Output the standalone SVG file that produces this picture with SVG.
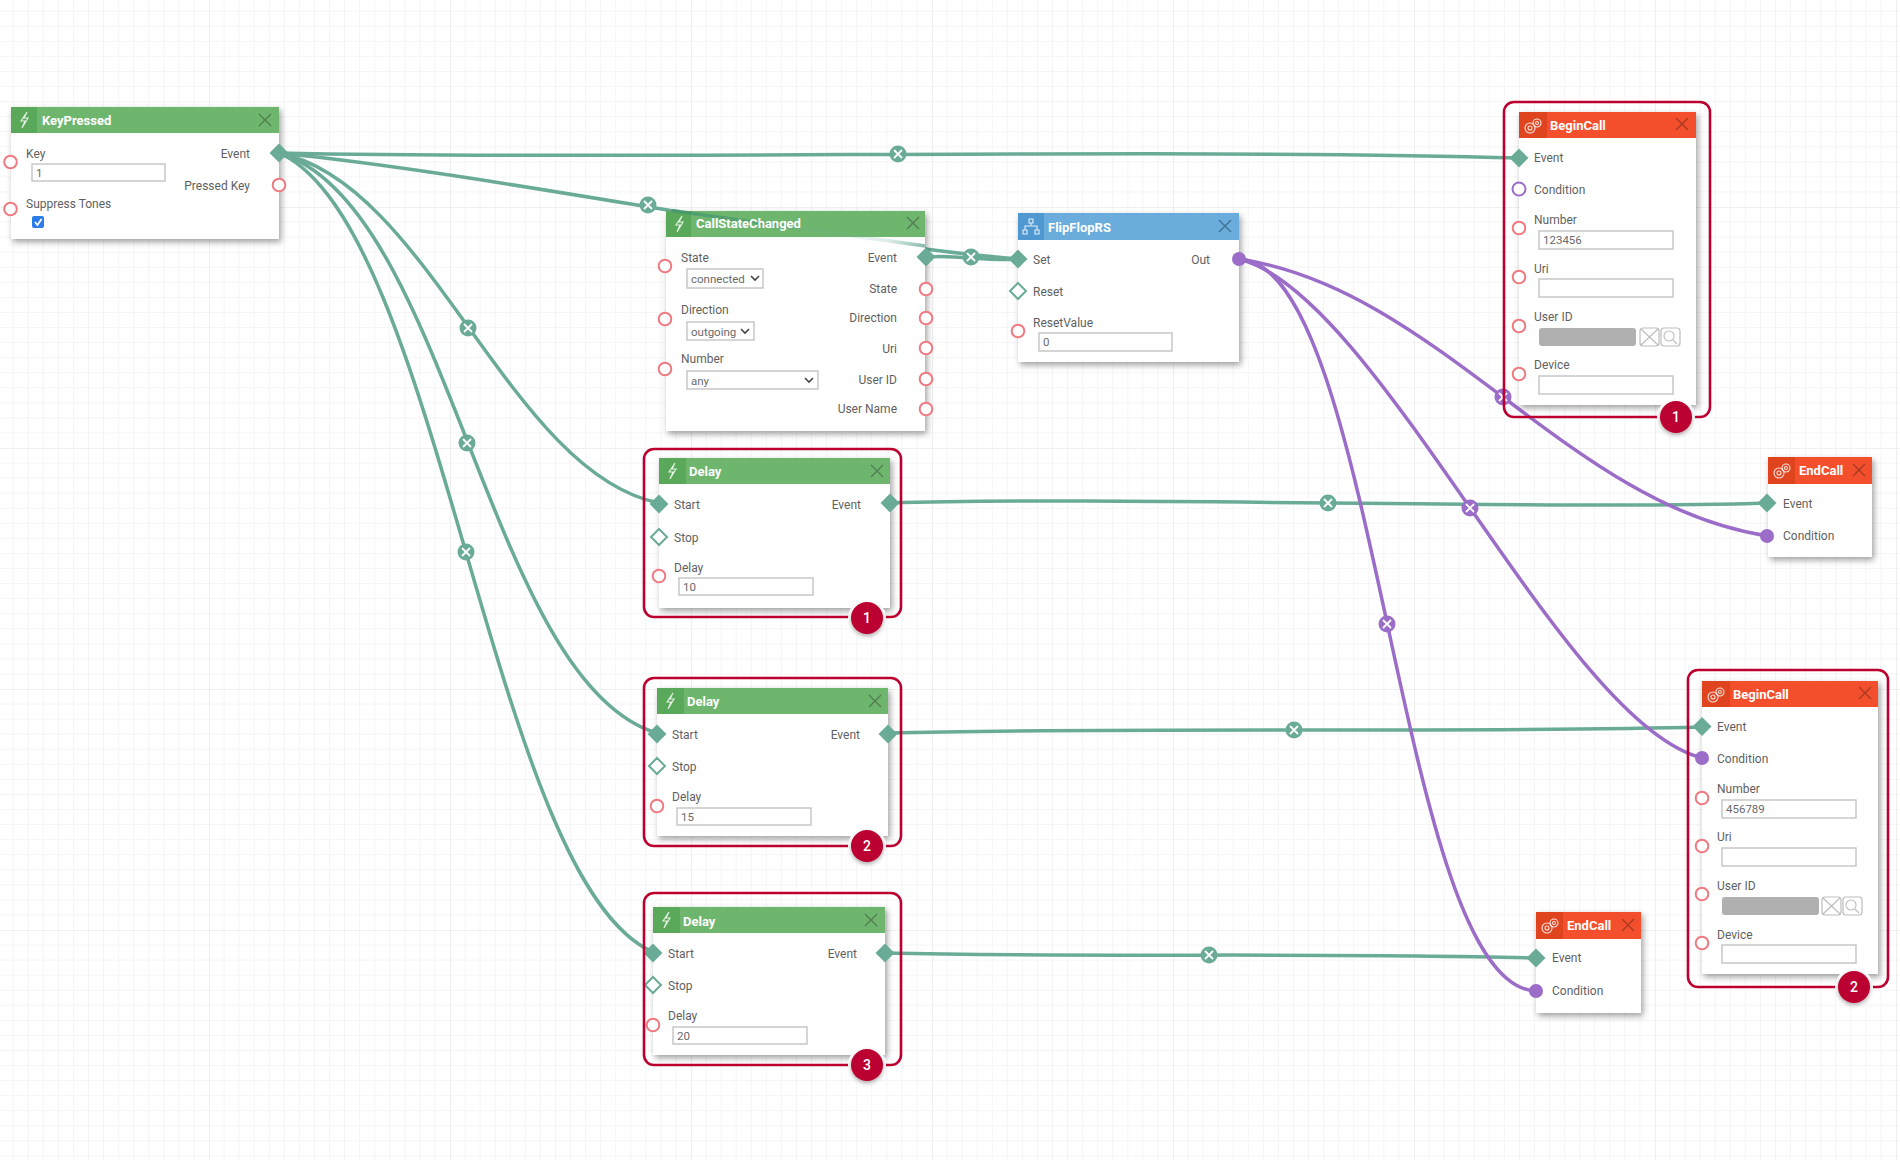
<svg xmlns="http://www.w3.org/2000/svg" xmlns:xlink="http://www.w3.org/1999/xlink" width="1900" height="1160" viewBox="0 0 1900 1160">
<style>
text{font-family:Roboto,"Liberation Sans",sans-serif;font-size:12px;fill:#5f5f5f}
.t{font-size:13px;font-weight:700;fill:#fff}
.r{text-anchor:end}
.v{fill:#6a6a6a;font-size:11.5px}
.card{fill:#fff;filter:url(#sh)}
.g-h{fill:#6eb66e}.g-i{fill:#5aa95a}
.b-h{fill:#6aacdc}.b-i{fill:#4f98d2}
.r-h{fill:#f34f2d}.r-i{fill:#e0441f}
.close{fill:none;stroke:#4a6a4a;stroke-width:1.4;opacity:.75}
.closer{fill:none;stroke:#a83a22;stroke-width:1.4}
.closeb{fill:none;stroke:#3f6f90;stroke-width:1.4}
.icon{fill:none;stroke:#fff;stroke-width:1.1;opacity:.85}
.in{fill:#fff;stroke:#c4c4c4;stroke-width:1.4}
.gray{fill:#b0b0b0}
.btn{fill:#fff;stroke:#bdbdbd;stroke-width:1.2}
.btnm{fill:none;stroke:#bdbdbd;stroke-width:1.1}
.chev{fill:none;stroke:#444;stroke-width:1.6}
.pc{fill:#fff;stroke:#f07a80;stroke-width:2}
.pu{fill:#fff;stroke:#9b6cc8;stroke-width:2}
.pf{fill:#9b6cc8}
.df{fill:#6aab97}
.dh{fill:#fff;stroke:#6aab97;stroke-width:2}
.c{fill:none;stroke-width:3.5;stroke-linecap:round}
.cg{stroke:#6aab97}.cp{stroke:#9b6cc8}
.mg{fill:#6aab97}.mp{fill:#9b6cc8}
.mx{fill:none;stroke:#fff;stroke-width:1.8}
.frame{fill:none;stroke:#bb0030;stroke-width:2.6}
.halo{fill:#fff}
.badge{fill:#bb0030;filter:url(#sh2)}
.bt{font-size:14px;font-weight:500;fill:#fff;text-anchor:middle}
</style>
<defs>
<filter id="sh" x="-10%" y="-10%" width="125%" height="125%"><feDropShadow dx="2" dy="3" stdDeviation="3" flood-color="#000" flood-opacity=".38"/></filter>
<filter id="sh2" x="-30%" y="-30%" width="160%" height="160%"><feDropShadow dx="0" dy="2" stdDeviation="2" flood-color="#000" flood-opacity=".35"/></filter>
<pattern id="grid" patternUnits="userSpaceOnUse" x="209" y="207" width="241" height="241">
<path d="M15.06 0V241M30.12 0V241M45.19 0V241M60.25 0V241M75.31 0V241M90.37 0V241M105.44 0V241M120.5 0V241M135.56 0V241M150.62 0V241M165.69 0V241M180.75 0V241M195.81 0V241M210.87 0V241M225.94 0V241M0 15.06H241M0 30.12H241M0 45.19H241M0 60.25H241M0 75.31H241M0 90.37H241M0 105.44H241M0 120.5H241M0 135.56H241M0 150.62H241M0 165.69H241M0 180.75H241M0 195.81H241M0 210.87H241M0 225.94H241" fill="none" stroke="#f5f5f5" stroke-width="1"/>
<path d="M.5 0V241M0 .5H241" fill="none" stroke="#efefef" stroke-width="1.2"/>
</pattern>
<linearGradient id="over" gradientUnits="userSpaceOnUse" x1="4" y1="0" x2="259" y2="0">
<stop offset="0" stop-color="#3f9070" stop-opacity=".7"/><stop offset=".42" stop-color="#3f9070" stop-opacity=".4"/><stop offset=".52" stop-color="#6aab97" stop-opacity=".14"/><stop offset=".85" stop-color="#6aab97" stop-opacity=".2"/><stop offset="1" stop-color="#6aab97" stop-opacity=".8"/>
</linearGradient>
<g id="xm"><path d="M-6-6L6 6M6-6L-6 6"/></g>
<g id="bolt"><path class="icon" d="M3-8L-3 1H1L-2 8L4-2H0L3-8Z"/></g>
<g id="gears"><circle class="icon" cx="-3" cy="2" r="5"/><circle class="icon" cx="-3" cy="2" r="2"/><circle class="icon" cx="4" cy="-3" r="4"/><circle class="icon" cx="4" cy="-3" r="1.5"/></g>
<g id="flow"><path class="icon" d="M-2-8H2V-4H-2ZM-8 3H-4V7H-8ZM4 3H8V7H4ZM0-4V-1M-6 3V-1H6V3"/></g>
<g id="mxg"><circle class="mg" r="8.5"/><path class="mx" d="M-4-4L4 4M4-4L-4 4"/></g>
<g id="mxp"><circle class="mp" r="8.5"/><path class="mx" d="M-4-4L4 4M4-4L-4 4"/></g>
<polygon id="d" points="0,-9.5 9.5,0 0,9.5 -9.5,0"/>
<polygon id="dh" points="0,-8 8,0 0,8 -8,0"/>
</defs>
<rect id="background" width="1900" height="1160" fill="#fff"/>
<rect width="1900" height="1160" fill="url(#grid)"/>

<g id="connectors">
<path class="c cg" d="M279 153C600 160 1200 148 1519 158"/>
<path class="c cg" d="M279 153C500 175 800 240 1018 259"/>
<path class="c cg" d="M279 153C429 183 509 473 659 503"/>
<path class="c cg" d="M279 153C449 203 487 683 657 733"/>
<path class="c cg" d="M279 153C441 223 491 882 653 952"/>
<path class="c cg" d="M925 257C955 254 990 262 1018 259"/>
<path class="c cg" d="M890 503C1100 496 1560 510 1768 503"/>
<path class="c cg" d="M888 733C1100 727 1490 733 1702 727"/>
<path class="c cg" d="M885 953C1100 958 1320 952 1536 958"/>
<path class="c cp" d="M1239 259C1439 289 1568 506 1768 536"/>
<path class="c cp" d="M1239 259C1379 294 1562 723 1702 758"/>
<path class="c cp" d="M1239 259C1379 264 1396 986 1536 991"/>
<use href="#mxg" x="898" y="154"/>
<use href="#mxg" x="648" y="205"/>
<use href="#mxg" x="971" y="257"/>
<use href="#mxg" x="468" y="328"/>
<use href="#mxg" x="467" y="443"/>
<use href="#mxg" x="466" y="552"/>
<use href="#mxg" x="1328" y="503"/>
<use href="#mxg" x="1294" y="730"/>
<use href="#mxg" x="1209" y="955"/>
<use href="#mxp" x="1503" y="397"/>
<use href="#mxp" x="1470" y="508"/>
<use href="#mxp" x="1387" y="624"/>
</g>

<g id="node-keypressed" transform="translate(11 107)">
<rect class="card" width="268" height="132"/><rect class="g-h" width="268" height="26"/><rect class="g-i" width="26" height="26"/>
<use href="#bolt" x="13" y="13"/><text class="t" x="31" y="17.500">KeyPressed</text><use href="#xm" class="close" x="254" y="13"/>
<text x="15" y="51">Key</text><rect class="in" x="21" y="57" width="133" height="17"/><text class="v" x="25" y="70">1</text>
<text x="15" y="101">Suppress Tones</text>
<rect x="21" y="109" width="12" height="12" rx="2" fill="#2b7de9"/><path d="M24 115L26.5 118L30.5 112" fill="none" stroke="#fff" stroke-width="1.8"/>
<text class="r" x="239" y="51">Event</text><text class="r" x="239" y="83">Pressed Key</text>
<circle class="pc" cx="-0.500" cy="55" r="6.3"/><circle class="pc" cx="-0.500" cy="102" r="6.3"/>
<use href="#d" class="df" x="268" y="46"/><circle class="pc" cx="268" cy="78" r="6.3"/>
</g>

<g id="node-callstatechanged" transform="translate(666 211)">
<rect class="card" width="259" height="220"/><rect class="g-h" width="259" height="26"/><rect class="g-i" width="25" height="26"/>
<path id="connector-under-card" d="M6 -0.500L259 35" fill="none" stroke="url(#over)" stroke-width="3.5"/>
<use href="#bolt" x="13" y="13"/><text class="t" x="30" y="17">CallStateChanged</text><use href="#xm" class="close" x="247" y="12"/>
<text x="15" y="51">State</text><rect class="in" x="21" y="58" width="76" height="19"/><text class="v" x="25" y="72">connected</text><path class="chev" d="M85 65L89 69L93 65"/>
<text x="15" y="103">Direction</text><rect class="in" x="21" y="111" width="67" height="18"/><text class="v" x="25" y="125">outgoing</text><path class="chev" d="M75 118L79 122L83 118"/>
<text x="15" y="152">Number</text><rect class="in" x="21" y="160" width="131" height="18"/><text class="v" x="25" y="174">any</text><path class="chev" d="M139 167L143 171L147 167"/>
<text class="r" x="231" y="51">Event</text><text class="r" x="231" y="82">State</text><text class="r" x="231" y="111">Direction</text><text class="r" x="231" y="142">Uri</text><text class="r" x="231" y="173">User ID</text><text class="r" x="231" y="202">User Name</text>
<circle class="pc" cx="-1" cy="55" r="6.3"/><circle class="pc" cx="-1" cy="108" r="6.3"/><circle class="pc" cx="-1" cy="158" r="6.3"/>
<use href="#d" class="df" x="260" y="46"/><circle class="pc" cx="260" cy="78" r="6.3"/><circle class="pc" cx="260" cy="107" r="6.3"/><circle class="pc" cx="260" cy="137" r="6.3"/><circle class="pc" cx="260" cy="168" r="6.3"/><circle class="pc" cx="260" cy="198" r="6.3"/>
</g>

<g id="node-flipflop" transform="translate(1018 213)">
<rect class="card" width="221" height="149"/><rect class="b-h" width="221" height="27"/><rect class="b-i" width="26" height="27"/>
<use href="#flow" x="13" y="14"/><text class="t" x="30" y="19">FlipFlopRS</text><use href="#xm" class="closeb" x="207" y="13"/>
<text x="15" y="51">Set</text><text x="15" y="83">Reset</text><text x="15" y="114">ResetValue</text>
<rect class="in" x="21" y="120" width="133" height="18"/><text class="v" x="25" y="133">0</text>
<text class="r" x="192" y="51">Out</text>
<use href="#d" class="df" x="0" y="46"/><use href="#dh" class="dh" x="0" y="78"/><circle class="pc" cx="0" cy="118" r="6.3"/><circle class="pf" cx="221" cy="46" r="7"/>
</g>

<g id="node-begincall-1">
<g transform="translate(1519 112)">
<rect class="card" width="177" height="293"/><rect class="r-h" width="177" height="26"/><rect class="r-i" width="28" height="26"/>
<use href="#gears" x="14" y="14"/><text class="t" x="31" y="18">BeginCall</text><use href="#xm" class="closer" x="163" y="12"/>
<text x="15" y="50">Event</text><text x="15" y="82">Condition</text><text x="15" y="112">Number</text><text x="15" y="161">Uri</text><text x="15" y="209">User ID</text><text x="15" y="257">Device</text>
<rect class="in" x="20" y="119" width="134" height="18"/><text class="v" x="24" y="132">123456</text><rect class="in" x="20" y="167" width="134" height="18"/>
<rect class="gray" x="20" y="216" width="97" height="18" rx="3"/><rect class="btn" x="121" y="216" width="19" height="18" rx="3"/><path class="btnm" d="M122 217L139 233M139 217L122 233"/><rect class="btn" x="142" y="216" width="19" height="18" rx="3"/><circle class="btnm" cx="150" cy="224" r="5"/><path class="btnm" d="M154 228L158 232"/>
<rect class="in" x="20" y="264" width="134" height="18"/>
<use href="#d" class="df" x="0" y="46"/><circle class="pu" cx="0" cy="77" r="6.5"/><circle class="pc" cy="116" r="6.3"/><circle class="pc" cy="165" r="6.3"/><circle class="pc" cy="214" r="6.3"/><circle class="pc" cy="262" r="6.3"/>
</g>
<rect class="frame" x="1504" y="102" width="206" height="315" rx="10"/>
<circle class="halo" cx="1676" cy="417" r="19"/><circle class="badge" cx="1676" cy="417" r="16"/><text class="bt" x="1676" y="422">1</text>
</g>

<g id="node-endcall-1" transform="translate(1768 457)">
<rect class="card" width="104" height="100"/><rect class="r-h" width="104" height="27"/><rect class="r-i" width="27" height="27"/>
<use href="#gears" x="14" y="14"/><text class="t" x="31" y="18">EndCall</text><use href="#xm" class="closer" x="91" y="13"/>
<text x="15" y="51">Event</text><text x="15" y="83">Condition</text>
<use href="#d" class="df" x="-1" y="46"/><circle class="pf" cx="-1" cy="79" r="7"/>
</g>

<g id="node-delay-1">
<g transform="translate(659 458)">
<rect class="card" width="231" height="150"/><rect class="g-h" width="231" height="26"/><rect class="g-i" width="27" height="26"/>
<use href="#bolt" x="13" y="13"/><text class="t" x="30" y="18">Delay</text><use href="#xm" class="close" x="218" y="13"/>
<text x="15" y="51">Start</text><text x="15" y="84">Stop</text><text x="15" y="114">Delay</text>
<rect class="in" x="20" y="120" width="134" height="17"/><text class="v" x="24" y="133">10</text><text class="r" x="202" y="51">Event</text>
<use href="#d" class="df" x="0" y="46"/><use href="#dh" class="dh" x="0" y="79"/><circle class="pc" cy="118" r="6.3"/><use href="#d" class="df" x="231" y="45"/>
</g>
<rect class="frame" x="644" y="449" width="257" height="168" rx="10"/>
<circle class="halo" cx="867" cy="618" r="19"/><circle class="badge" cx="867" cy="618" r="16"/><text class="bt" x="867" y="623">1</text>
</g>

<g id="node-delay-2">
<g transform="translate(657 688)">
<rect class="card" width="231" height="148"/><rect class="g-h" width="231" height="26"/><rect class="g-i" width="27" height="26"/>
<use href="#bolt" x="13" y="13"/><text class="t" x="30" y="18">Delay</text><use href="#xm" class="close" x="218" y="13"/>
<text x="15" y="51">Start</text><text x="15" y="83">Stop</text><text x="15" y="113">Delay</text>
<rect class="in" x="20" y="120" width="134" height="17"/><text class="v" x="24" y="133">15</text><text class="r" x="203" y="51">Event</text>
<use href="#d" class="df" x="0" y="46"/><use href="#dh" class="dh" x="0" y="78"/><circle class="pc" cy="118" r="6.3"/><use href="#d" class="df" x="231" y="46"/>
</g>
<rect class="frame" x="644" y="678" width="257" height="168" rx="10"/>
<circle class="halo" cx="867" cy="846" r="19"/><circle class="badge" cx="867" cy="846" r="16"/><text class="bt" x="867" y="851">2</text>
</g>

<g id="node-delay-3">
<g transform="translate(653 907)">
<rect class="card" width="232" height="148"/><rect class="g-h" width="232" height="26"/><rect class="g-i" width="27" height="26"/>
<use href="#bolt" x="13" y="13"/><text class="t" x="30" y="18.500">Delay</text><use href="#xm" class="close" x="218" y="13"/>
<text x="15" y="51">Start</text><text x="15" y="83">Stop</text><text x="15" y="113">Delay</text>
<rect class="in" x="20" y="120" width="134" height="17"/><text class="v" x="24" y="133">20</text><text class="r" x="204" y="51">Event</text>
<use href="#d" class="df" x="0" y="46"/><use href="#dh" class="dh" x="0" y="78"/><circle class="pc" cy="118" r="6.3"/><use href="#d" class="df" x="232" y="46"/>
</g>
<rect class="frame" x="644" y="893" width="257" height="172" rx="10"/>
<circle class="halo" cx="867" cy="1065" r="19"/><circle class="badge" cx="867" cy="1065" r="16"/><text class="bt" x="867" y="1070">3</text>
</g>

<g id="node-begincall-2">
<g transform="translate(1702 681)">
<rect class="card" width="176" height="293"/><rect class="r-h" width="176" height="26"/><rect class="r-i" width="28" height="26"/>
<use href="#gears" x="14" y="14"/><text class="t" x="31" y="18">BeginCall</text><use href="#xm" class="closer" x="163" y="12"/>
<text x="15" y="50">Event</text><text x="15" y="82">Condition</text><text x="15" y="112">Number</text><text x="15" y="160">Uri</text><text x="15" y="209">User ID</text><text x="15" y="258">Device</text>
<rect class="in" x="20" y="119" width="134" height="18"/><text class="v" x="24" y="132">456789</text><rect class="in" x="20" y="167" width="134" height="18"/>
<rect class="gray" x="20" y="216" width="97" height="18" rx="3"/><rect class="btn" x="120" y="216" width="19" height="18" rx="3"/><path class="btnm" d="M121 217L138 233M138 217L121 233"/><rect class="btn" x="141" y="216" width="19" height="18" rx="3"/><circle class="btnm" cx="149" cy="224" r="5"/><path class="btnm" d="M153 228L157 232"/>
<rect class="in" x="20" y="264" width="134" height="18"/>
<use href="#d" class="df" x="0" y="45.500"/><circle class="pf" cx="0" cy="77" r="7"/><circle class="pc" cy="117" r="6.3"/><circle class="pc" cy="165" r="6.3"/><circle class="pc" cy="213" r="6.3"/><circle class="pc" cy="262" r="6.3"/>
</g>
<rect class="frame" x="1688" y="670" width="200" height="317" rx="10"/>
<circle class="halo" cx="1854" cy="987" r="19"/><circle class="badge" cx="1854" cy="987" r="16"/><text class="bt" x="1854" y="992">2</text>
</g>

<g id="node-endcall-2" transform="translate(1536 912)">
<rect class="card" width="105" height="101"/><rect class="r-h" width="105" height="27"/><rect class="r-i" width="27" height="27"/>
<use href="#gears" x="14" y="14"/><text class="t" x="31" y="18">EndCall</text><use href="#xm" class="closer" x="92" y="13"/>
<text x="16" y="50">Event</text><text x="16" y="83">Condition</text>
<use href="#d" class="df" x="0" y="46"/><circle class="pf" cx="0" cy="79" r="7"/>
</g>
</svg>
